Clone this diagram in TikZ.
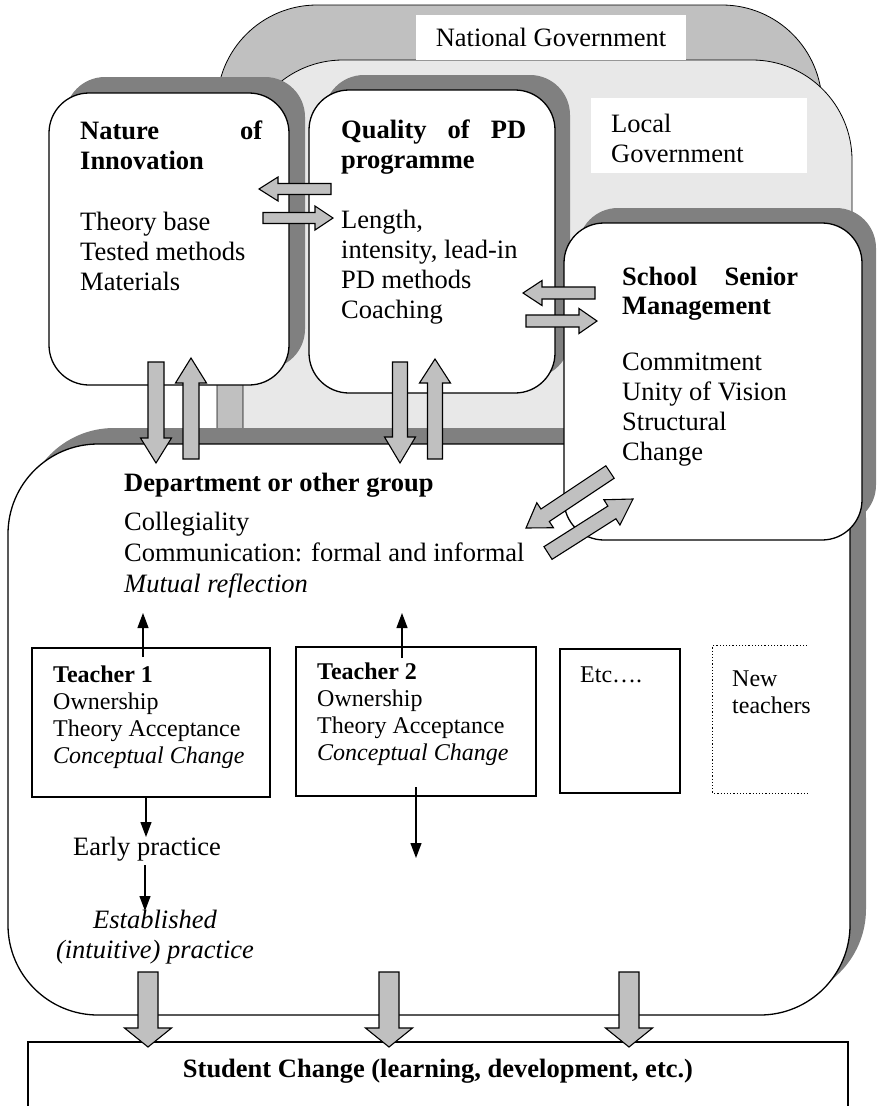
\documentclass[tikz,border=0pt]{standalone}
\usepackage{fontspec}
\setmainfont{Liberation Serif}
\usetikzlibrary{calc,arrows.meta}

\definecolor{natgray}{HTML}{C0C0C0}
\definecolor{locgray}{HTML}{E8E8E8}
\definecolor{shadowgray}{HTML}{808080}
\definecolor{arrowgray}{HTML}{C0C0C0}

\newcommand\bigfont{\fontsize{26.5}{30}\selectfont}
\newcommand\smallfont{\fontsize{24}{27}\selectfont}

% block arrow: start, end, half shaft width, half head width, head length
\newcommand\blockarrow[5]{%
  \coordinate (hb) at ($(#2)!#5!(#1)$);
  \draw[blk] ($(#1)!#3!90:(#2)$)
    -- ($(hb)!#3!90:(#2)$)
    -- ($(hb)!#4!90:(#2)$)
    -- (#2)
    -- ($(hb)!#4!-90:(#2)$)
    -- ($(hb)!#3!-90:(#2)$)
    -- ($(#1)!#3!-90:(#2)$) -- cycle;
}

\begin{document}
\begin{tikzpicture}[x=1pt,y=-1pt,
  govt/.style={draw=black, line width=0.8pt, rounded corners=100pt},
  card/.style={draw=black, fill=white, line width=1.3pt, inner sep=0pt},
  plain/.style={draw=black, fill=white, line width=1.3pt, inner sep=0pt},
  blk/.style={draw=black, fill=arrowgray, line width=1.1pt, line join=miter},
  thin/.style={draw=black, line width=1.2pt, -{Triangle[width=11pt,length=15pt]}},
  txt/.style={inner sep=0pt, anchor=base west, font=\bigfont},
  stxt/.style={inner sep=0pt, anchor=base west, font=\smallfont},
  ctxt/.style={inner sep=0pt, anchor=base, font=\bigfont}]

\useasboundingbox (0,0) rectangle (880,1106);
\clip (0,0) rectangle (880,1106);

% government layers (lower parts run behind the department box)
\path[govt, fill=natgray] (217,5) rectangle (822,760);
\path[govt, fill=locgray] (243,60) rectangle (852,760);
\node[fill=white, inner sep=0pt, minimum width=270pt, minimum height=45pt, font=\bigfont] (natlabel) at (551,37.5) {National Government};
\node[fill=white, inner sep=0pt, minimum width=216pt, minimum height=75pt] (locbox) at (699,135.5) {};
\node[txt] (loclabel) at (611,132) {\vtop{\hbox{Local}\hbox{Government}}};

% nature of innovation
\fill[shadowgray, rounded corners=40pt] (65,77) rectangle (305,369);
\node[card, rounded corners=40pt, minimum width=240pt, minimum height=292pt] (nature) at (169,239) {};
\node[txt, font=\bigfont\bfseries] (natureh) at (80,139) {\vtop{\hbox to 182pt{Nature\hfill of}\hbox{Innovation}}};
\node[txt] (naturel) at (80,230) {\vtop{\hbox{Theory base}\hbox{Tested methods}\hbox{Materials}}};

% quality of PD programme
\fill[shadowgray, rounded corners=40pt] (324,75) rectangle (570,378);
\node[card, rounded corners=40pt, minimum width=246pt, minimum height=303pt] (quality) at (432,241.5) {};
\node[txt, font=\bigfont\bfseries] (qualityh) at (341,138) {\vtop{\hbox to 185pt{Quality\hfill of\hfill PD}\hbox{programme}}};
\node[txt] (qualityl) at (341,228) {\vtop{\hbox{Length,}\hbox{intensity, lead-in}\hbox{PD methods}\hbox{Coaching}}};

% department or other group
\fill[shadowgray, rounded corners=90pt] (24,428) rectangle (866,999);
\node[card, rounded corners=90pt, minimum width=842pt, minimum height=571pt] (dept) at (429,729.5) {};

% school senior management
\fill[shadowgray, rounded corners=40pt] (578,208) rectangle (876,525);
\node[card, rounded corners=40pt, minimum width=298pt, minimum height=317pt] (ssm) at (713,381.5) {};
\node[txt, font=\fontsize{26.5}{29}\selectfont\bfseries] (ssmh) at (622,285) {\vtop{\hbox to 176pt{School\hfill Senior}\hbox{Management}}};
\node[txt] (ssml) at (622,370) {\vtop{\hbox{Commitment}\hbox{Unity of Vision}\hbox{Structural}\hbox{Change}}};

% department text
\node[txt, font=\bigfont\bfseries] (depth) at (124,491) {Department or other group};
\node[txt, font=\fontsize{26.5}{31}\selectfont] (deptl) at (124,530) {\vtop{\hbox{Collegiality}\hbox{Communication: formal and informal}\hbox{\itshape Mutual reflection}}};

% teachers
\node[plain, minimum width=238pt, minimum height=149pt] (t1) at (151,722.5) {};
\node[stxt] (t1l) at (53,682) {\vtop{\hbox{\bfseries Teacher 1}\hbox{Ownership}\hbox{Theory Acceptance}\hbox{\itshape Conceptual Change}}};
\node[plain, minimum width=240pt, minimum height=149pt] (t2) at (416,721.5) {};
\node[stxt] (t2l) at (317,679) {\vtop{\hbox{\bfseries Teacher 2}\hbox{Ownership}\hbox{Theory Acceptance}\hbox{\itshape Conceptual Change}}};
\node[plain, minimum width=120pt, minimum height=144pt] (etc) at (620,721) {};
\node[stxt] (etcl) at (580,682) {Etc….};
\node[inner sep=0pt, minimum width=94pt, minimum height=147pt] (newt) at (760,719.5) {};
\draw[dotted, line width=1.2pt] (newt.north east) -- (newt.north west) -- (newt.south west) -- (newt.south east);
\node[stxt] (newtl) at (732,686) {\vtop{\hbox{New}\hbox{teachers}}};

% practice
\node[ctxt] (early) at (147,855) {Early practice};
\node[ctxt, font=\bigfont\itshape] (estab) at (155,928) {\vtop{\hbox to 220pt{\hss Established\hss}\hbox to 220pt{\hss (intuitive) practice\hss}}};

% student change
\node[plain, minimum width=820pt, minimum height=80pt] (student) at (438,1082) {};
\node[ctxt, font=\bigfont\bfseries] (studentl) at (438,1077) {Student Change (learning, development, etc.)};

% teacher arrows
\coordinate (t1up) at (143,657);   \coordinate (t1upend) at (143,613);
\coordinate (t2up) at (402,658);   \coordinate (t2upend) at (402,613);
\coordinate (t1dn) at (146,797);   \coordinate (t1dnend) at (146,837);
\coordinate (t2dn) at (416,787);   \coordinate (t2dnend) at (416,858);
\coordinate (epdn) at (145,865);   \coordinate (epdnend) at (145,911);
\draw[thin] (t1up) -- (t1upend);
\draw[thin] (t2up) -- (t2upend);
\draw[thin] (t1dn) -- (t1dnend);
\draw[thin] (t2dn) -- (t2dnend);
\draw[thin] (epdn) -- (epdnend);

% block arrows between the boxes
\coordinate (na1) at (156,362); \coordinate (na2) at (156,463);
\coordinate (na3) at (191,459); \coordinate (na4) at (191,358);
\blockarrow{na1}{na2}{8pt}{15.5pt}{25pt}
\blockarrow{na3}{na4}{8pt}{15.5pt}{25pt}

\coordinate (qa1) at (400,362); \coordinate (qa2) at (400,463);
\coordinate (qa3) at (435,459); \coordinate (qa4) at (435,359);
\blockarrow{qa1}{qa2}{7.5pt}{15.5pt}{26pt}
\blockarrow{qa3}{qa4}{7.5pt}{15.5pt}{24pt}

\coordinate (nq1) at (331,189); \coordinate (nq2) at (259,189);
\coordinate (nq3) at (263,218); \coordinate (nq4) at (333,218);
\blockarrow{nq1}{nq2}{5.5pt}{12pt}{19pt}
\blockarrow{nq3}{nq4}{5.5pt}{12pt}{18pt}

\coordinate (qs1) at (595,293); \coordinate (qs2) at (523,293);
\coordinate (qs3) at (526,321); \coordinate (qs4) at (597,321);
\blockarrow{qs1}{qs2}{6pt}{12.5pt}{19pt}
\blockarrow{qs3}{qs4}{6pt}{12.5pt}{18pt}

\coordinate (sd1) at (610,472); \coordinate (sd2) at (526,528);
\coordinate (sd3) at (548,553); \coordinate (sd4) at (633,499);
\blockarrow{sd1}{sd2}{7.5pt}{15pt}{23pt}
\blockarrow{sd3}{sd4}{7.5pt}{15pt}{25pt}

\coordinate (ds1) at (148,972); \coordinate (ds2) at (148,1047);
\coordinate (ds3) at (389,972); \coordinate (ds4) at (389,1047);
\coordinate (ds5) at (629,972); \coordinate (ds6) at (629,1047);
\blockarrow{ds1}{ds2}{10pt}{23.5pt}{19pt}
\blockarrow{ds3}{ds4}{10pt}{23.5pt}{19pt}
\blockarrow{ds5}{ds6}{10pt}{23.5pt}{19pt}

\end{tikzpicture}
\end{document}
